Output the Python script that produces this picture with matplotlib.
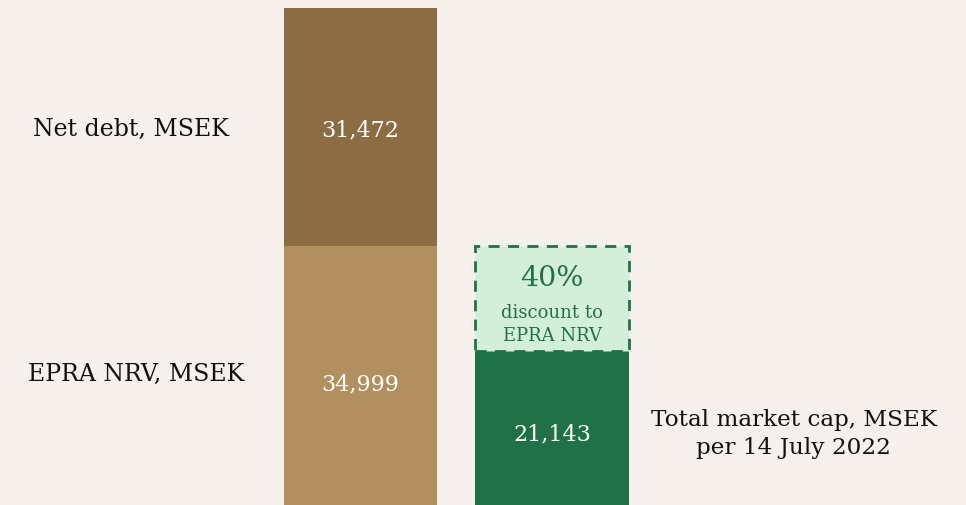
import matplotlib.pyplot as plt

# data
net_debt = 31472
epra_nrv = 34999
market_cap = 21143
discount_pct = round((1 - market_cap / epra_nrv) * 100)

bg = '#F5F0EC'
brown_dark = '#8B6C43'
brown_light = '#B28F5F'
green = '#217148'
green_light = '#D3EFDC'

plt.rcParams['font.family'] = ['DejaVu Serif']

fig = plt.figure(figsize=(9.66, 5.05), dpi=100, facecolor=bg)
ax = fig.add_axes([0, 0, 1, 1])
ax.set_facecolor(bg)

# stacked bar: EPRA NRV + net debt
ax.bar(0, epra_nrv, width=0.8, color=brown_light)
ax.bar(0, net_debt, bottom=epra_nrv, width=0.8, color=brown_dark)

# market cap bar + discount box
ax.bar(1, market_cap, width=0.8, color=green)
ax.bar(1, epra_nrv - market_cap, bottom=market_cap, width=0.8,
       facecolor=green_light, edgecolor=green, linestyle=(0, (4, 3)), linewidth=2)

ax.set_xlim(-1.883, 3.162)
ax.set_ylim(790, 67530)
ax.axis('off')

# values inside bars
ax.text(0, epra_nrv + net_debt / 2 - 500, f'{net_debt:,}', color='white',
        ha='center', va='center', fontsize=16)
ax.text(0, epra_nrv / 2 - 720, f'{epra_nrv:,}', color='white',
        ha='center', va='center', fontsize=16)
ax.text(1, market_cap / 2 - 520, f'{market_cap:,}', color='white',
        ha='center', va='center', fontsize=16)

# discount box text
mid = (epra_nrv + market_cap) / 2
ax.text(1, mid + 2670, f'{discount_pct}%', color=green,
        ha='center', va='center', fontsize=20.5)
ax.text(1, mid - 3430, 'discount to\nEPRA NRV', color=green,
        ha='center', va='center', fontsize=13, linespacing=1.35)

# category labels
ax.text(-1.199, epra_nrv + net_debt / 2 - 300, 'Net debt, MSEK',
        ha='center', va='center', fontsize=17, color='#111111')
ax.text(-1.173, epra_nrv / 2 + 600, 'EPRA NRV, MSEK',
        ha='center', va='center', fontsize=17, color='#111111')
ax.text(2.263, market_cap / 2 - 400, 'Total market cap, MSEK\nper 14 July 2022',
        ha='center', va='center', fontsize=16.7, color='#111111', linespacing=1.4)

fig.savefig('out.png', dpi=100, facecolor=bg)
